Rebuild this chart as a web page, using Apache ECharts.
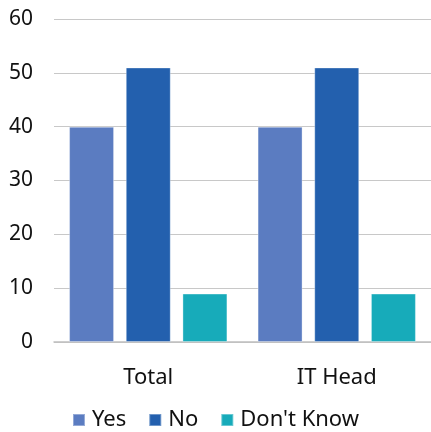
<!DOCTYPE html>
<html>
<head>
<meta charset="utf-8">
<script src="https://cdn.jsdelivr.net/npm/echarts@6/dist/echarts.min.js"></script>
<style>
  html, body { margin: 0; padding: 0; background: #fff; }
  #chart { width: 431px; height: 432px; }
</style>
</head>
<body>
<div id="chart"></div>
<script>
// 数据
var categories = ['Total', 'IT Head'];
var yesValues = [40, 40];
var noValues = [51, 51];
var dontKnowValues = [9, 9];
var yTicks = { min: 0, max: 60, interval: 10 };

var font = '"Noto Sans", "Open Sans", sans-serif';

function bar(name, data, color) {
    return {
        name: name,
        type: 'bar',
        data: data,
        barGap: '26%',
        barCategoryGap: '16%',
        itemStyle: {
            color: color,
            borderColor: 'rgba(255,255,255,0.35)',
            borderWidth: 1
        }
    };
}

var myChart = echarts.init(document.getElementById('chart'));
myChart.setOption({
    animation: false,
    textStyle: { fontFamily: font },
    grid: {
        left: 54,
        right: 0,
        top: 19,
        bottom: 90
    },
    legend: {
        top: 404,
        left: 'center',
        itemWidth: 12,
        itemHeight: 12,
        itemGap: 22,
        icon: 'rect',
        textStyle: { fontSize: 22, color: '#111', fontFamily: font, padding: [0, 0, 0, 2] },
        data: ['Yes', 'No', "Don't Know"]
    },
    xAxis: {
        type: 'category',
        data: categories,
        axisLine: { lineStyle: { color: '#bfbfbf', width: 1.5 } },
        axisTick: { show: false },
        axisLabel: { fontSize: 22, color: '#111', margin: 25, fontFamily: font }
    },
    yAxis: {
        type: 'value',
        min: yTicks.min,
        max: yTicks.max,
        interval: yTicks.interval,
        axisLine: { show: false },
        axisTick: { show: false },
        axisLabel: { fontSize: 21, color: '#111', margin: 21, fontFamily: font },
        splitLine: { lineStyle: { color: '#c8c8c8', width: 1.2 } }
    },
    series: [
        bar('Yes', yesValues, '#5b7cc1'),
        bar('No', noValues, '#2360ae'),
        bar("Don't Know", dontKnowValues, '#17abba')
    ]
});
</script>
</body>
</html>
